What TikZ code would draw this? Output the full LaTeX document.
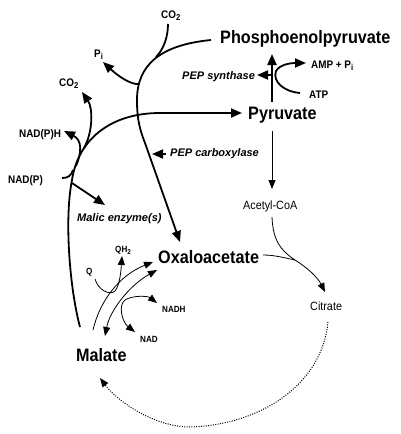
\documentclass[tikz,border=0pt]{standalone}
\usepackage{fontspec}
\usepackage{graphicx}
\setmainfont{Liberation Sans}
\newfontfamily\narrowsf[FakeStretch=0.9]{Liberation Sans}
\newcommand\mysub[1]{\raisebox{-0.45ex}{\scalebox{0.78}{#1}}}
\usetikzlibrary{arrows.meta}
\tikzset{
  big/.style={font=\narrowsf\bfseries\fontsize{18}{20}\selectfont, inner sep=0pt, anchor=base west},
  small/.style={font=\narrowsf\bfseries\fontsize{11}{13}\selectfont, inner sep=0pt, anchor=base west},
  tiny/.style={font=\narrowsf\bfseries\fontsize{9}{11}\selectfont, inner sep=0pt, anchor=base west},
  enz/.style={font=\bfseries\itshape\fontsize{11}{13}\selectfont, inner sep=0pt, anchor=base west},
  met/.style={font=\narrowsf\fontsize{12}{14}\selectfont, inner sep=0pt, anchor=base west},
  thickline/.style={line width=1.8pt},
  thinline/.style={line width=0.8pt},
  bigtip/.style={-{Triangle[length=11pt,width=9pt]}},
  smalltip/.style={-{Triangle[length=9pt,width=7pt]}},
  bothtips/.style={{Triangle[length=9pt,width=7pt]}-{Triangle[length=9pt,width=7pt]}},
  dotline/.style={line width=1pt, dash pattern=on 1pt off 1.4pt}
}
\begin{document}
\begin{tikzpicture}[x=1pt,y=-1pt]
\useasboundingbox (0,0) rectangle (400,434);
% metabolite labels
\node[big] (pep) at (220,43) {Phosphoenolpyruvate};
\node[big] (pyr) at (248,119) {Pyruvate};
\node[big] (oaa) at (158,263) {Oxaloacetate};
\node[big] (mal) at (76,361) {Malate};
\node[met] (acoa) at (243,209) {Acetyl-CoA};
\node[met] (cit) at (310,310) {Citrate};
% cofactors
\node[small] (co2top) at (161,18) {CO\mysub{2}};
\node[small] (pi) at (94,57) {P\mysub{i}};
\node[small] (co2left) at (59,86) {CO\mysub{2}};
\node[small] (napph) at (19,137) {NAD(P)H};
\node[small] (nadp) at (8,183) {NAD(P)};
\node[small] (amp) at (311,68) {AMP + P\mysub{i}};
\node[small] (atp) at (309,98) {ATP};
\node[tiny] (q) at (86,274) {Q};
\node[tiny] (qh) at (115,252) {QH\mysub{2}};
\node[tiny] (nadh) at (162,312) {NADH};
\node[tiny] (nad) at (140,342) {NAD};
% enzymes
\node[enz] (pepsyn) at (182,79) {PEP synthase};
\node[enz] (pepcarb) at (170,156) {PEP carboxylase};
\node[enz] (malic) at (77,221) {Malic enzyme(s)};

% coordinates
\coordinate (m1) at (80,327);
\coordinate (m2) at (72,180);
\coordinate (m3) at (160,113);
\coordinate (pyrin) at (242,113);
\coordinate (p1) at (211,40);
\coordinate (p2) at (137,100);
\coordinate (p3) at (145,143);
\coordinate (oaain) at (180,242);

% Malate -> Pyruvate (malic enzyme)
\draw[thickline,bigtip] (m1) .. controls (70,290) and (64,220) .. (m2)
   .. controls (78,140) and (110,113) .. (m3) -- (pyrin);
% NAD(P) in
\coordinate (nadpin) at (62,178);
\coordinate (nadpj) at (73,170);
\draw[thickline] (nadpin) .. controls (68,178) and (71,176) .. (nadpj);
% NAD(P)H out
\coordinate (naphj) at (76,166);
\coordinate (napht) at (64,131);
\draw[thickline,bigtip] (naphj) .. controls (82,152) and (82,140) .. (napht);
% CO2 out (left)
\coordinate (co2lj) at (84,148);
\coordinate (co2lt) at (82,92);
\draw[thickline,bigtip] (co2lj) .. controls (93,132) and (93,108) .. (co2lt);
% Malic enzyme arrow
\coordinate (mej) at (72,183);
\coordinate (met) at (105,205);
\draw[thickline,bigtip] (mej) -- (met);

% PEP -> Oxaloacetate (PEP carboxylase)
\draw[thickline,bigtip] (p1) .. controls (160,45) and (137,65) .. (p2)
   .. controls (137,120) and (140,130) .. (p3) -- (oaain);
% CO2 top
\coordinate (co2tj) at (156,57);
\coordinate (co2tt) at (168,24);
\draw[thickline] (co2tj) .. controls (163,50) and (168,38) .. (co2tt);
% Pi out
\coordinate (pij) at (139,84);
\coordinate (pit) at (103,62);
\draw[thickline,bigtip] (pij) .. controls (131,85) and (118,76) .. (pit);
% PEP carboxylase arrow
\coordinate (pcs) at (166,154);
\coordinate (pct) at (152,154);
\draw[thickline,bigtip] (pcs) -- (pct);

% PEP synthase
\coordinate (pss) at (272,102);
\coordinate (pst) at (272,54);
\draw[line width=2.2pt,bigtip] (pss) -- (pst);
\coordinate (psm) at (272,75);
\coordinate (psl) at (257,75);
\draw[thickline,bigtip] (psm) -- (psl);
\coordinate (atps) at (300,93);
\coordinate (atpm) at (276,71);
\coordinate (ampt) at (306,63);
\draw[thickline,bigtip] (atps) .. controls (285,92) and (272,82) .. (atpm)
   .. controls (280,64) and (292,63) .. (ampt);

% Pyruvate -> Acetyl-CoA
\coordinate (pyrout) at (272,131);
\coordinate (acoain) at (272,189);
\draw[thinline,smalltip] (pyrout) -- (acoain);
% Acetyl-CoA -> Citrate
\coordinate (acoaout) at (272,217);
\coordinate (citj) at (295,260);
\coordinate (citin) at (325,292);
\draw[thinline,smalltip] (acoaout) .. controls (273,240) and (280,250) .. (citj)
   .. controls (308,268) and (318,278) .. (citin);
% Oxaloacetate joins
\coordinate (oaaout) at (263,255);
\draw[thinline] (oaaout) .. controls (275,255) and (285,258) .. (citj);

% Citrate -> Malate (dotted)
\coordinate (citout) at (328,322);
\coordinate (dotlow) at (190,427);
\coordinate (malin) at (100,378);
\draw[dotline,smalltip] (citout) .. controls (322,385) and (260,425) .. (dotlow)
   .. controls (155,427) and (118,402) .. (malin);

% Malate -> Oxaloacetate (quinone)
\coordinate (mqs) at (93,330);
\coordinate (mqt) at (153,262);
\draw[thinline,smalltip] (mqs) .. controls (100,300) and (120,275) .. (mqt);
% Malate <-> Oxaloacetate (NAD)
\coordinate (mds) at (105,336);
\coordinate (mdt) at (157,270);
\draw[thinline,bothtips] (mds) .. controls (110,310) and (130,285) .. (mdt);
% Q -> QH2
\coordinate (qs) at (95,279);
\coordinate (qj) at (115,291);
\coordinate (qt) at (122,256);
\draw[thinline,smalltip] (qs) .. controls (98,290) and (110,296) .. (qj)
   .. controls (120,285) and (121,270) .. (qt);
% NAD <-> NADH
\coordinate (nads) at (135,332);
\coordinate (nadj) at (125,300);
\coordinate (nadht) at (157,303);
\draw[thinline,bothtips] (nads) .. controls (122,322) and (118,305) .. (nadj)
   .. controls (133,295) and (148,296) .. (nadht);
\end{tikzpicture}
\end{document}
